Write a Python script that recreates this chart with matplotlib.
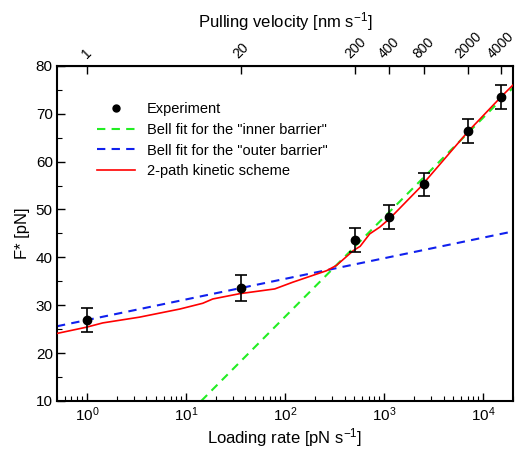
import matplotlib
matplotlib.use('Agg')
import matplotlib.pyplot as plt
from matplotlib.lines import Line2D
from matplotlib.ticker import MultipleLocator, FixedLocator, FixedFormatter, NullLocator

plt.rcParams['font.family'] = ['Liberation Sans', 'DejaVu Sans']
plt.rcParams['mathtext.fontset'] = 'custom'
plt.rcParams['mathtext.rm'] = 'Liberation Sans'
plt.rcParams['mathtext.it'] = 'Liberation Sans:italic'
plt.rcParams['mathtext.bf'] = 'Liberation Sans:bold'

# experiment
exp_rate = [1.0, 35.7, 514, 1124, 2518, 7123, 15100]
exp_force = [26.9, 33.6, 43.7, 48.4, 55.3, 66.4, 73.4]
exp_err = [2.5, 2.75, 2.5, 2.5, 2.4, 2.45, 2.5]
velocity_labels = ['1', '20', '200', '400', '800', '2000', '4000']

# Bell fits (straight in log rate)
inner_rate = [14.3, 20000]
inner_force = [10.0, 75.4]
outer_rate = [0.5, 20000]
outer_force = [25.6, 45.4]

# 2-path kinetic scheme
kin_rate = [0.5, 0.99, 1.45, 3.4, 8.7, 14.8, 18.7, 34.8, 79, 120, 263, 331,
            490, 575, 718, 906, 1143, 2291, 7079, 15350, 20100]
kin_force = [24.1, 25.4, 26.3, 27.5, 29.2, 30.4, 31.3, 32.4, 33.4, 34.8, 37.2,
             38.3, 41.4, 42.3, 44.9, 46.3, 48.1, 54.5, 66.3, 73.6, 76.0]

fig = plt.figure(figsize=(5.18, 4.51), dpi=100)
ax = fig.add_axes([0.110, 0.111, 0.880, 0.743])

ax.errorbar(exp_rate, exp_force, yerr=exp_err, fmt='o', color='black',
            markersize=6, capsize=4.5, elinewidth=1.2, capthick=1.2, zorder=4)
l_in, = ax.plot(inner_rate, inner_force, '--', color='#22ee22', lw=1.5,
                dashes=(4, 3), zorder=2)
l_out, = ax.plot(outer_rate, outer_force, '--', color='#1020ee', lw=1.5,
                 dashes=(4, 3), zorder=2)
l_kin, = ax.plot(kin_rate, kin_force, '-', color='red', lw=1.2, zorder=3)
dot = Line2D([], [], marker='o', color='black', markersize=5, linestyle='none')

ax.set_xscale('log')
ax.set_xlim(0.5, 20000)
ax.set_ylim(10, 80)
ax.yaxis.set_major_locator(MultipleLocator(10))
ax.yaxis.set_minor_locator(MultipleLocator(5))
ax.tick_params(which='both', direction='in', top=False, right=False,
               labelsize=11, pad=3)
ax.tick_params(which='major', length=6, width=1)
ax.tick_params(which='minor', length=3.5, width=0.8)
for sp in ax.spines.values():
    sp.set_linewidth(1.5)

ax.set_xlabel(r'Loading rate [pN s$^{\mathregular{-1}}$]', fontsize=12, labelpad=2)
ax.set_ylabel('F* [pN]', fontsize=12)

top = ax.secondary_xaxis('top')
top.xaxis.set_major_locator(FixedLocator(exp_rate))
top.xaxis.set_major_formatter(FixedFormatter(velocity_labels))
top.xaxis.set_minor_locator(NullLocator())
top.tick_params(direction='in', length=6, width=1, labelsize=10)
plt.setp(top.get_xticklabels(), rotation=45, ha='center', va='bottom')
top.set_xlabel(r'Pulling velocity [nm s$^{\mathregular{-1}}$]', fontsize=12, labelpad=1)

ax.legend([dot, l_in, l_out, l_kin],
          ['Experiment', 'Bell fit for the "inner barrier"',
           'Bell fit for the "outer barrier"', '2-path kinetic scheme'],
          loc='upper left', bbox_to_anchor=(0.06, 0.93), frameon=False,
          fontsize=10.5, handlelength=2.6, labelspacing=0.45, numpoints=1)

fig.savefig('out.png', dpi=100)
